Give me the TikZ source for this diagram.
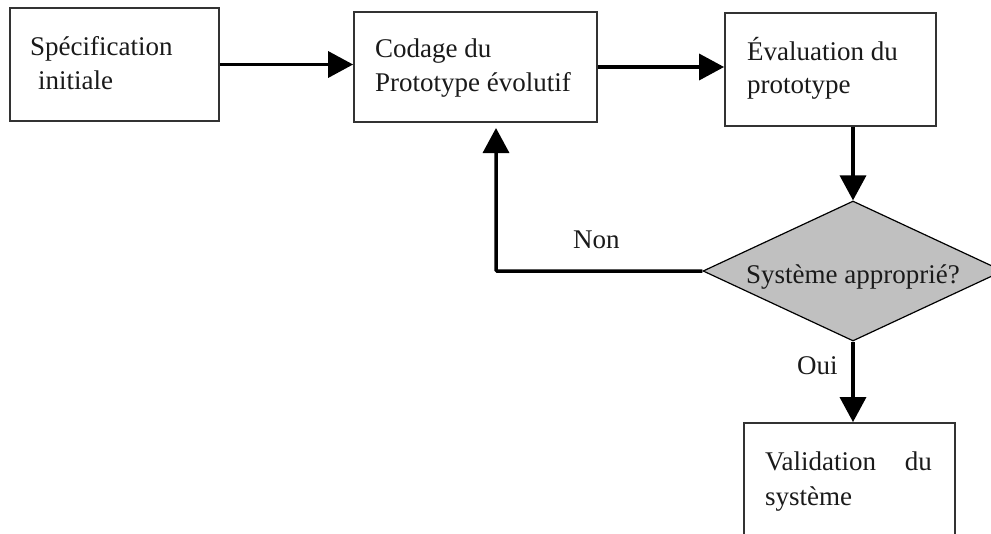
\documentclass[tikz,border=0pt]{standalone}
\usepackage{fontspec}
\setmainfont{Liberation Serif}
\usetikzlibrary{arrows.meta,shapes.geometric}
\definecolor{ink}{HTML}{1A1A1A}
\definecolor{frame}{HTML}{333333}
\definecolor{decision}{HTML}{C0C0C0}
\begin{document}
\begin{tikzpicture}[x=1pt,y=-1pt,
  stepbox/.style={draw=frame,line width=1.8pt,fill=white,inner sep=0pt},
  txt/.style={inner sep=0pt,text=ink,font=\fontsize{27}{35}\selectfont},
  flow/.style={line width=3.5pt,draw=black,-{Triangle[length=25pt,width=26pt]}},
  choice/.style={diamond,draw=black,line width=1.2pt,fill=decision,inner sep=0pt,
    minimum width=300pt,minimum height=140pt}]
  \useasboundingbox (0,0) rectangle (991,533);
  \clip (0,0) rectangle (991,533);

  % process boxes
  \node[stepbox,minimum width=209pt,minimum height=113pt] (spec) at (114.5,64.5) {};
  \node[stepbox,minimum width=243pt,minimum height=110pt] (code) at (475.5,67) {};
  \node[stepbox,minimum width=211pt,minimum height=113pt] (eval) at (830.5,69.5) {};
  \node[stepbox,minimum width=211pt,minimum height=137pt] (valid) at (849.5,491.5) {};
  \node[choice] (dia) at (853,271) {};

  % box texts
  \node[txt,anchor=base west] (specA) at (30,55) {Spécification};
  \node[txt,anchor=base west] (specB) at (38,89) {initiale};
  \node[txt,anchor=base west] (codeA) at (375,57) {Codage du};
  \node[txt,anchor=base west] (codeB) at (375,91) {Prototype évolutif};
  \node[txt,anchor=base west] (evalA) at (747,60) {Évaluation du};
  \node[txt,anchor=base west] (evalB) at (747,93) {prototype};
  \node[txt,anchor=base] (diaT) at (853,283) {Système approprié?};
  \node[txt,anchor=base west] (validA) at (765,470) {Validation};
  \node[txt,anchor=base east] (validB) at (932,470) {du};
  \node[txt,anchor=base west] (validC) at (765,505) {système};

  % branch labels
  \node[txt,anchor=base west] (non) at (573,248) {Non};
  \node[txt,anchor=base west] (oui) at (797,374) {Oui};

  % connectors
  \coordinate (back) at (496,122);
  \draw[flow] (spec.east) -- (spec.east -| code.west);
  \draw[flow] (code.east) -- (code.east -| eval.west);
  \draw[flow] (dia.north |- eval.south) -- (dia.north);
  \draw[flow,shorten >=6pt,rounded corners=1pt] (dia.west) -| (back);
  \draw[flow] (dia.south) -- (dia.south |- valid.north);
\end{tikzpicture}
\end{document}
